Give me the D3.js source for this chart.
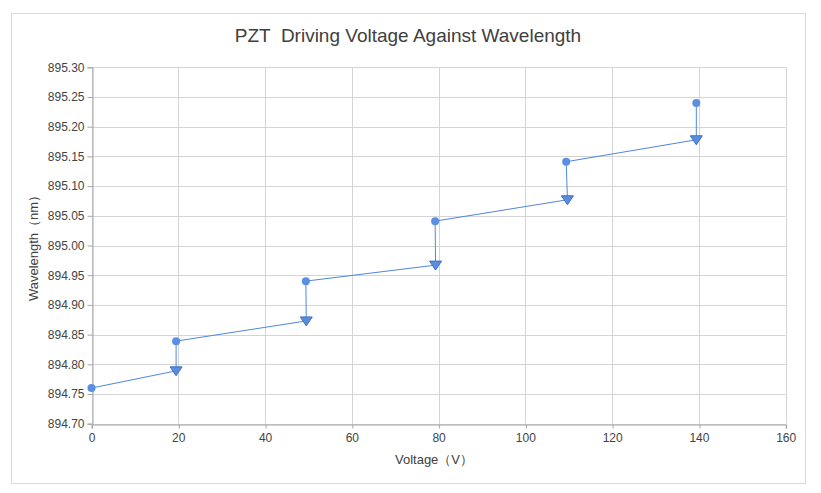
<!DOCTYPE html>
<html><head><meta charset="utf-8">
<script src="https://cdn.jsdelivr.net/npm/d3@7"></script>
<style>body{margin:0;background:#fff}svg{display:block}text{font-family:"Liberation Sans",Arial,sans-serif}</style>
</head><body>
<script>
const title = "PZT  Driving Voltage Against Wavelength";
const xTitle = "Voltage（V）";
const yTitle = "Wavelength（nm）";
const voltage = [0, 19.5, 19.5, 49.5, 49.4, 79.3, 79.2, 109.7, 109.4, 139.4, 139.4];
const wavelength = [894.760, 894.789, 894.839, 894.873, 894.940, 894.967, 895.041, 895.077, 895.141, 895.178, 895.240];
const markerType = ["circle","triangle","circle","triangle","circle","triangle","circle","triangle","circle","triangle","circle"];
const xTicks = [0,20,40,60,80,100,120,140,160];
const yTicks = [894.70,894.75,894.80,894.85,894.90,894.95,895.00,895.05,895.10,895.15,895.20,895.25,895.30];

const W=821,H=493;
const svg=d3.select("body").append("svg").attr("width",W).attr("height",H);
svg.append("rect").attr("x",11.5).attr("y",13.5).attr("width",794).attr("height",470).attr("fill","#fff").attr("stroke","#d9d9d9");
const L=91.5,R=785.7,T=67.3,B=423.7;
const x=d3.scaleLinear().domain([0,160]).range([L,R]);
const y=d3.scaleLinear().domain([894.70,895.30]).range([B,T]);

const g=svg.append("g");
// grid
g.selectAll(".hg").data(yTicks).join("line").attr("x1",L).attr("x2",R)
 .attr("y1",d=>Math.round(y(d))+0.5).attr("y2",d=>Math.round(y(d))+0.5).attr("stroke","#d4d4d4");
g.selectAll(".vg").data(xTicks).join("line").attr("y1",T).attr("y2",B)
 .attr("x1",d=>Math.round(x(d))+0.5).attr("x2",d=>Math.round(x(d))+0.5).attr("stroke","#d4d4d4");

// axes
const xAxis=d3.axisBottom(x).tickValues(xTicks).tickSize(4).tickPadding(5).tickFormat(d3.format("d"));
const yAxis=d3.axisLeft(y).tickValues(yTicks).tickSize(5).tickPadding(3).tickFormat(d3.format(".2f"));
const gx=svg.append("g").attr("transform",`translate(0,${Math.round(B)+0.5})`).call(xAxis);
const gy=svg.append("g").attr("transform",`translate(${Math.round(L)+0.5},0)`).call(yAxis);
[gx,gy].forEach(a=>{
  a.select(".domain").attr("stroke","#a6a6a6");
  a.selectAll(".tick line").attr("stroke","#a6a6a6");
  a.selectAll(".tick text").attr("fill","#444").style("font-size","12px").style("font-family","'Liberation Sans',Arial,sans-serif");
});
gx.selectAll(".tick line").attr("transform","translate(0.5,0)");

// line
const pts=voltage.map((v,i)=>({v,w:wavelength[i],m:markerType[i]}));
svg.append("path").datum(pts).attr("fill","none").attr("stroke","#4f86df").attr("stroke-width",1)
 .attr("d",d3.line().x(d=>x(d.v)).y(d=>y(d.w)));
// markers
svg.selectAll(".c").data(pts.filter(d=>d.m==="circle")).join("circle")
 .attr("cx",d=>x(d.v)).attr("cy",d=>y(d.w)).attr("r",4).attr("fill","#5b8fe3");
svg.selectAll(".t").data(pts.filter(d=>d.m==="triangle")).join("path")
 .attr("transform",d=>`translate(${x(d.v)},${y(d.w)})`)
 .attr("d","M-6,-4L6,-4L0,5Z").attr("fill","#5a8de0").attr("stroke","#3d6fc4").attr("stroke-width",1);

// titles
svg.append("text").attr("x",408).attr("y",42).attr("text-anchor","middle").attr("fill","#404040")
 .style("font-size","19px").style("white-space","pre").attr("xml:space","preserve").text(title);
svg.append("text").attr("x",434).attr("y",464).attr("text-anchor","middle").attr("fill","#404040").style("font-size","13px").text(xTitle);
svg.append("text").attr("transform","translate(38,245) rotate(-90)").attr("text-anchor","middle").attr("fill","#404040").style("font-size","13px").text(yTitle);
</script>
</body></html>
